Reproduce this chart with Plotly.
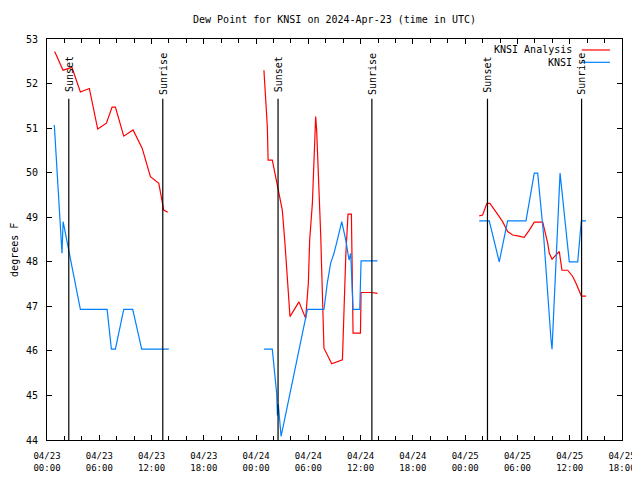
import plotly.graph_objects as go

# ---------------- data (hours since 2024-04-23 00:00 UTC) ----------------
series_names = ["KNSI Analysis", "KNSI"]
series_colors = ["#ff0000", "#0080ff"]

analysis_hours = [0.88, 1.84, 2.87, 3.83, 4.86, 5.82, 6.82, 7.47, 7.85, 8.81, 9.88, 10.92, 11.87, 12.83, 13.40, 13.86,
                  None,
                  24.90, 25.09, 25.29, 25.38, 25.86, 26.16, 26.47, 27.01, 27.31, 27.66, 27.89, 28.92, 29.69, 30.00,
                  30.15, 30.46, 30.64, 30.84, 30.95, 31.15, 31.41, 31.79, 32.68, 33.91, 34.09, 34.29, 34.55, 34.94,
                  35.13, 35.98, 36.05, 37.24, 37.93,
                  None,
                  49.61, 50.00, 50.49, 50.84, 51.53, 52.30, 52.87, 53.45, 54.02, 54.78, 55.36, 55.93, 56.90, 57.47,
                  57.66, 57.97, 58.80, 59.11, 59.77, 60.34, 60.72, 61.10, 61.34, 61.88]
analysis_values = [52.72, 52.30, 52.36, 51.81, 51.89, 50.98, 51.11, 51.47, 51.47, 50.82, 50.96, 50.55, 49.91, 49.76, 49.16, 49.11,
                   None,
                   52.30, 51.56, 51.03, 50.28, 50.28, 49.99, 49.69, 49.16, 48.42, 47.52, 46.77, 47.10, 46.73, 47.52,
                   48.49, 49.31, 50.43, 51.26, 50.96, 49.99, 48.64, 46.06, 45.71, 45.80, 46.92, 48.11, 49.07, 49.07,
                   46.40, 46.40, 47.31, 47.31, 47.29,
                   None,
                   49.03, 49.05, 49.31, 49.31, 49.12, 48.90, 48.68, 48.60, 48.58, 48.55, 48.71, 48.89, 48.89, 48.42,
                   48.19, 48.06, 48.23, 47.81, 47.81, 47.67, 47.52, 47.33, 47.23, 47.23]

obs_hours = [0.84, 1.60, 1.72, 1.85, 3.83, 6.90, 7.39, 7.85, 8.81, 9.84, 10.87, 13.98,
             None,
             24.90, 25.86, 26.13, 26.36, 26.45, 26.55, 26.87, 29.89, 31.79, 32.17, 32.56, 32.94, 33.33, 33.83,
             34.29, 34.67, 34.86, 34.94, 35.13, 35.90, 36.05, 37.93,
             None,
             49.61, 50.76, 51.91, 52.87, 54.98, 55.93, 56.32, 57.00, 57.85, 57.97, 58.89, 59.95, 60.92, 61.33, 61.87]
obs_values = [51.07, 48.75, 48.19, 48.90, 46.93, 46.93, 46.04, 46.04, 46.93, 46.93, 46.04, 46.04,
              None,
              46.04, 46.04, 45.50, 45.05, 44.55, 44.80, 44.08, 46.93, 46.93, 47.52, 47.97, 48.19, 48.49, 48.90,
              48.49, 48.04, 48.19, 47.74, 46.93, 46.93, 48.02, 48.02,
              None,
              48.92, 48.92, 48.00, 48.92, 48.92, 49.99, 49.99, 48.60, 46.25, 46.04, 49.99, 48.00, 48.00, 48.92, 48.92]

sun_hours = [2.50, 13.29, 26.52, 37.29, 50.56, 61.36]
sun_labels = ["Sunset", "Sunrise", "Sunset", "Sunrise", "Sunset", "Sunrise"]

x_tick_hours = [0, 6, 12, 18, 24, 30, 36, 42, 48, 54, 60, 66]
x_tick_text = ["04/23<br>00:00", "04/23<br>06:00", "04/23<br>12:00", "04/23<br>18:00",
               "04/24<br>00:00", "04/24<br>06:00", "04/24<br>12:00", "04/24<br>18:00",
               "04/25<br>00:00", "04/25<br>06:00", "04/25<br>12:00", "04/25<br>18:00"]
y_ticks = [44, 45, 46, 47, 48, 49, 50, 51, 52, 53]

title_text = "Dew Point for KNSI on 2024-Apr-23 (time in UTC)"
y_title = "degrees F"

FONT = "DejaVu Sans Mono"
PAGE_OFFSET = 8  # default page margin of the browser body

# ---------------- figure ----------------
fig = go.Figure()
for name, color, xs, ys in [(series_names[0], series_colors[0], analysis_hours, analysis_values),
                            (series_names[1], series_colors[1], obs_hours, obs_values)]:
    fig.add_trace(go.Scatter(x=xs, y=ys, mode="lines", name=name, showlegend=False,
                             connectgaps=False, line=dict(color=color, width=1.2)))

shapes = []
annotations = []
for h, lab in zip(sun_hours, sun_labels):
    shapes.append(dict(type="line", xref="x", yref="y", x0=h, x1=h, y0=44, y1=51.66,
                       line=dict(color="black", width=1.2)))
    annotations.append(dict(x=h, y=52.21, xref="x", yref="y", text=lab, showarrow=False,
                            textangle=-90, xanchor="center", yanchor="middle",
                            font=dict(family=FONT, size=10, color="black")))

# manual legend (text right-aligned, line sample at the right)
leg_rows_y = [0.9726, 0.9419]
for name, color, yy in zip(series_names, series_colors, leg_rows_y):
    annotations.append(dict(x=0.9165, y=yy, xref="paper", yref="paper", text=name, showarrow=False,
                            xanchor="right", yanchor="middle",
                            font=dict(family=FONT, size=10, color="black")))
    shapes.append(dict(type="line", xref="paper", yref="paper", x0=0.930, x1=0.979, y0=yy, y1=yy,
                       line=dict(color=color, width=1.2)))

annotations.append(dict(x=-0.0557, y=0.474, xref="paper", yref="paper", text=y_title, showarrow=False,
                        textangle=-90, xanchor="center", yanchor="middle",
                        font=dict(family=FONT, size=10, color="black")))

fig.update_layout(
    width=640, height=480,
    margin=dict(l=47 - PAGE_OFFSET, r=18 + PAGE_OFFSET, t=39 - PAGE_OFFSET, b=40 + PAGE_OFFSET),
    paper_bgcolor="white", plot_bgcolor="white",
    title=dict(text=title_text, x=0.5, xref="paper", y=1 - (19 - PAGE_OFFSET) / 480, yref="container",
               xanchor="center", yanchor="middle",
               font=dict(family=FONT, size=10, color="black")),
    shapes=shapes, annotations=annotations,
    font=dict(family=FONT, size=10, color="black"),
)
fig.update_xaxes(range=[0, 66], tickmode="array", tickvals=x_tick_hours, ticktext=x_tick_text,
                 ticks="inside", ticklen=5, tickcolor="black", showgrid=False, zeroline=False,
                 showline=True, linecolor="black", linewidth=1, mirror="ticks",
                 ticklabelstandoff=7,
                 minor=dict(ticks="inside", dtick=2, ticklen=4, tickcolor="black", showgrid=False),
                 tickfont=dict(family=FONT, size=9, color="black"))
fig.update_yaxes(range=[44, 53], tickmode="array", tickvals=y_ticks, ticktext=[str(v) for v in y_ticks],
                 ticks="inside", ticklen=5, tickcolor="black", showgrid=False, zeroline=False,
                 showline=True, linecolor="black", linewidth=1, mirror="ticks",
                 ticklabelstandoff=6,
                 tickfont=dict(family=FONT, size=10, color="black"))

fig.write_html("out.html")
